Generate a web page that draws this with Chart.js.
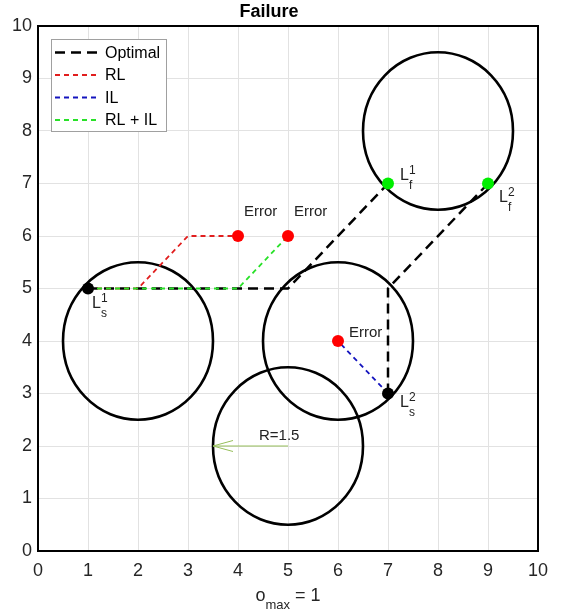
<!DOCTYPE html>
<html><head><meta charset="utf-8">
<script src="https://cdn.jsdelivr.net/npm/chart.js@4/dist/chart.umd.min.js"></script>
<style>html,body{margin:0;padding:0;background:#fff}</style>
</head><body>
<canvas id="c" width="562" height="615"></canvas>
<script>
// ---- data ----
const optimal1X = [1, 5, 7];
const optimal1Y = [5, 5, 7];
const optimal2X = [7, 7, 9];
const optimal2Y = [3, 5, 7];
const rlX = [1, 2, 3, 4];
const rlY = [5, 5, 6, 6];
const ilX = [7, 6];
const ilY = [3, 4];
const rlilX = [1, 4, 5];
const rlilY = [5, 5, 6];
const errorX = [4, 5, 6];
const errorY = [6, 6, 4];
const startX = [1, 7];
const startY = [5, 3];
const goalX = [7, 9];
const goalY = [7, 7];
const circleX = [2, 6, 8, 5];
const circleY = [4, 4, 8, 2];
const circleR = 1.5;
const arrowFromX = 5, arrowFromY = 2, arrowToX = 3.5, arrowToY = 2;
const legendNames = ['Optimal', 'RL', 'IL', 'RL + IL'];
const errorText = ['Error', 'Error', 'Error'];
const errorTextX = [4.12, 5.12, 6.22];
const errorTextY = [6.38, 6.38, 4.08];
const radiusText = 'R=1.5';
const radiusTextX = 4.42, radiusTextY = 2.11;
const lSub = ['s', 's', 'f', 'f'];
const lSup = ['1', '2', '1', '2'];
const lX = [1.08, 7.24, 7.24, 9.22];
const lY = [4.63, 2.74, 7.07, 6.65];

const FONT = "'Liberation Sans', Arial, Helvetica, sans-serif";
const pts = (xs, ys) => xs.map((x, i) => ({x: x, y: ys[i]}));

const C_BLACK = '#000000', C_RED = 'rgb(225,30,30)', C_BLUE = 'rgb(20,20,190)', C_GREEN = 'rgb(40,225,40)';
const dashBlack = [10, 6], dashColor = [5, 4];

const overlay = {
  id: 'overlay',
  beforeDatasetsDraw(chart) {
    const ctx = chart.ctx, xs = chart.scales.x, ys = chart.scales.y;
    ctx.save();
    // circles
    ctx.strokeStyle = '#000'; ctx.lineWidth = 2.6;
    circleX.forEach((cx, i) => {
      const px = xs.getPixelForValue(cx), py = ys.getPixelForValue(circleY[i]);
      const rx = Math.abs(xs.getPixelForValue(cx + circleR) - px);
      const ry = Math.abs(ys.getPixelForValue(circleY[i] + circleR) - py);
      ctx.beginPath(); ctx.ellipse(px, py, rx, ry, 0, 0, Math.PI * 2); ctx.stroke();
    });
    // arrow
    const ax0 = xs.getPixelForValue(arrowFromX), ay0 = ys.getPixelForValue(arrowFromY);
    const ax1 = xs.getPixelForValue(arrowToX), ay1 = ys.getPixelForValue(arrowToY);
    ctx.strokeStyle = 'rgb(150,190,90)'; ctx.lineWidth = 1;
    ctx.beginPath(); ctx.moveTo(ax0, ay0); ctx.lineTo(ax1, ay1);
    ctx.moveTo(ax1 + 20, ay1 - 5.5); ctx.lineTo(ax1, ay1); ctx.lineTo(ax1 + 20, ay1 + 5.5);
    ctx.stroke();
    ctx.restore();
  },
  afterDraw(chart) {
    const ctx = chart.ctx, xs = chart.scales.x, ys = chart.scales.y, a = chart.chartArea;
    ctx.save();
    // frame
    ctx.strokeStyle = '#000'; ctx.lineWidth = 2;
    ctx.strokeRect(a.left, a.top, a.right - a.left, a.bottom - a.top);
    // text annotations
    ctx.fillStyle = '#222'; ctx.textBaseline = 'alphabetic'; ctx.textAlign = 'left';
    ctx.font = '15px ' + FONT;
    errorText.forEach((t, i) => ctx.fillText(t, xs.getPixelForValue(errorTextX[i]), ys.getPixelForValue(errorTextY[i])));
    ctx.fillText(radiusText, xs.getPixelForValue(radiusTextX), ys.getPixelForValue(radiusTextY));
    lX.forEach((x, i) => {
      const px = xs.getPixelForValue(x), py = ys.getPixelForValue(lY[i]);
      ctx.font = '16px ' + FONT; ctx.fillText('L', px, py);
      const w = ctx.measureText('L').width;
      ctx.font = '12px ' + FONT;
      ctx.fillText(lSup[i], px + w, py - 6);
      ctx.fillText(lSub[i], px + w, py + 9);
    });
    // legend
    const lx = a.left + 13, ly = a.top + 13, lw = 115, lh = 92;
    ctx.fillStyle = '#fff'; ctx.fillRect(lx, ly, lw, lh);
    ctx.strokeStyle = '#a0a0a0'; ctx.lineWidth = 1;
    ctx.strokeRect(lx + 0.5, ly + 0.5, lw, lh);
    const ds = chart.data.datasets;
    [0, 2, 3, 4].forEach((di, r) => {
      const d = ds[di], yy = ly + 13.5 + r * 22.5;
      ctx.strokeStyle = d.borderColor; ctx.lineWidth = d.borderWidth; ctx.setLineDash(d.borderDash);
      ctx.beginPath(); ctx.moveTo(lx + 4, yy); ctx.lineTo(lx + 47, yy); ctx.stroke();
      ctx.setLineDash([]);
      ctx.fillStyle = '#000'; ctx.font = '16px ' + FONT; ctx.textBaseline = 'middle';
      ctx.fillText(legendNames[r], lx + 54, yy + 1);
    });
    // x axis title: o_max = 1
    ctx.textBaseline = 'alphabetic'; ctx.fillStyle = '#262626';
    const cx = (a.left + a.right) / 2;
    ctx.font = '18px ' + FONT; const wo = ctx.measureText('o').width;
    const weq = ctx.measureText(' = 1').width;
    ctx.font = '13px ' + FONT; const wm = ctx.measureText('max').width;
    let x0 = cx - (wo + wm + weq) / 2;
    const base = 601;
    ctx.font = '18px ' + FONT; ctx.fillText('o', x0, base);
    ctx.font = '13px ' + FONT; ctx.fillText('max', x0 + wo, base + 8);
    ctx.font = '18px ' + FONT; ctx.fillText(' = 1', x0 + wo + wm, base);
    ctx.restore();
  }
};

new Chart(document.getElementById('c'), {
  type: 'scatter',
  data: {
    datasets: [
      {label: 'Optimal', data: pts(optimal1X, optimal1Y), showLine: true, borderColor: C_BLACK, borderWidth: 2.5, borderDash: dashBlack, pointRadius: 0, order: 6},
      {label: 'Optimal2', data: pts(optimal2X, optimal2Y), showLine: true, borderColor: C_BLACK, borderWidth: 2.5, borderDash: dashBlack, pointRadius: 0, order: 6},
      {label: 'RL', data: pts(rlX, rlY), showLine: true, borderColor: C_RED, borderWidth: 1.8, borderDash: dashColor, pointRadius: 0, order: 5},
      {label: 'IL', data: pts(ilX, ilY), showLine: true, borderColor: C_BLUE, borderWidth: 1.8, borderDash: dashColor, pointRadius: 0, order: 5},
      {label: 'RL + IL', data: pts(rlilX, rlilY), showLine: true, borderColor: C_GREEN, borderWidth: 1.8, borderDash: dashColor, pointRadius: 0, order: 4},
      {label: 'Error', data: pts(errorX, errorY), showLine: false, pointRadius: 6, pointBackgroundColor: '#ff0000', pointBorderColor: '#ff0000', pointBorderWidth: 0, order: 1},
      {label: 'Start', data: pts(startX, startY), showLine: false, pointRadius: 6, pointBackgroundColor: '#000', pointBorderColor: '#000', pointBorderWidth: 0, order: 1},
      {label: 'Goal', data: pts(goalX, goalY), showLine: false, pointRadius: 6, pointBackgroundColor: '#00ee00', pointBorderColor: '#00ee00', pointBorderWidth: 0, order: 1}
    ]
  },
  options: {
    responsive: false, animation: false, events: [],
    layout: {padding: {left: 0, right: 24, top: 0, bottom: 0}},
    plugins: {
      legend: {display: false}, tooltip: {enabled: false},
      title: {display: true, text: 'Failure', color: '#000', font: {family: FONT, size: 18, weight: 'bold', lineHeight: 1.2}, padding: {top: 1.5, bottom: 2.9}}
    },
    scales: {
      x: {type: 'linear', min: 0, max: 10,
        ticks: {stepSize: 1, color: '#262626', font: {family: FONT, size: 18}, padding: 9, maxRotation: 0},
        grid: {color: '#e2e2e2', drawTicks: false}, border: {display: false},
        afterFit(s) { s.height = 64; }},
      y: {type: 'linear', min: 0, max: 10,
        ticks: {stepSize: 1, color: '#262626', font: {family: FONT, size: 18}, padding: 6},
        grid: {color: '#e2e2e2', drawTicks: false}, border: {display: false},
        afterFit(s) { s.width = 38; }}
    }
  },
  plugins: [overlay]
});
</script>
</body></html>
